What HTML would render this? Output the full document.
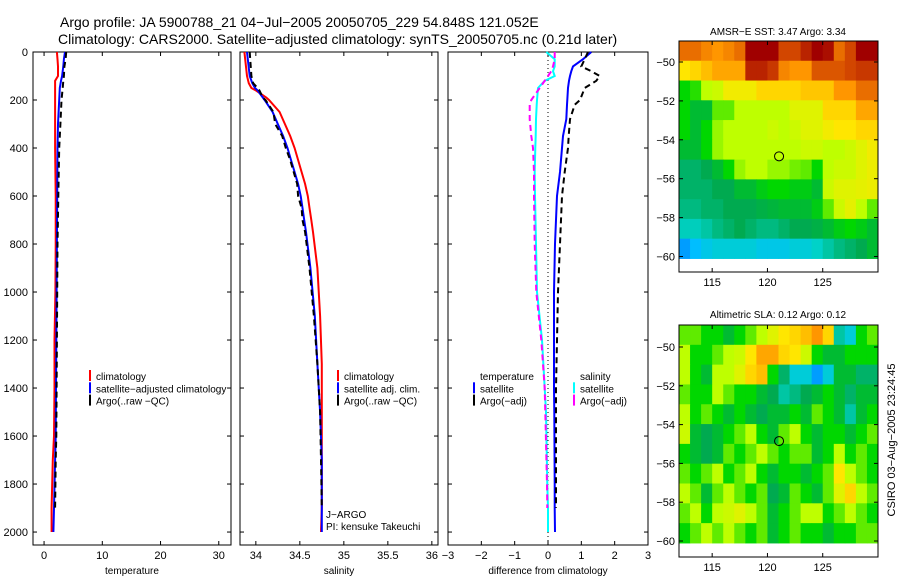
<!DOCTYPE html>
<html><head><meta charset="utf-8"><style>
body{margin:0;background:#fff;}
svg{display:block;font-family:"Liberation Sans",sans-serif;}
</style></head><body>
<svg id="c" width="900" height="580" xmlns="http://www.w3.org/2000/svg">
<text x="60" y="27" font-size="14">Argo profile: JA 5900788_21 04−Jul−2005 20050705_229 54.848S 121.052E</text>
<text x="58" y="44" font-size="14">Climatology: CARS2000. Satellite−adjusted climatology: synTS_20050705.nc (0.21d later)</text>
<text x="778" y="35" font-size="10" text-anchor="middle">AMSR−E SST: 3.47 Argo: 3.34</text>
<text x="778" y="318" font-size="10" text-anchor="middle">Altimetric SLA: 0.12 Argo: 0.12</text>
<text transform="translate(895,440) rotate(-90)" font-size="11" text-anchor="middle">CSIRO 03−Aug−2005 23:24:45</text>
</svg>
<script>
// ---- profile data ----
const depthT = [0,30,60,100,120,150,200,300,400,600,800,1000,1200,1400,1600,1700,1900,2000];
const tempClim = [2.2,2.3,2.4,2.4,1.9,1.9,1.9,1.9,1.9,2.0,2.0,1.95,1.8,1.8,1.7,1.5,1.3,1.3];
const tempSat  = [3.6,3.4,3.3,3.1,2.9,2.7,2.6,2.4,2.3,2.25,2.2,2.15,2.1,2.05,2.0,1.9,1.7,1.6];
const tempArgo = [3.8,3.7,3.5,3.4,3.3,3.2,3.0,2.8,2.6,2.45,2.3,2.25,2.2,2.15,2.1,2.0,1.9];
const depthS = [0,100,130,150,160,190,200,250,300,350,400,450,500,550,600,650,700,750,900,1100,1300,1500,1700,1900,2000];
const salClim = [33.87,33.9,33.92,33.95,34.0,34.12,34.15,34.27,34.33,34.39,34.44,34.48,34.52,34.56,34.59,34.61,34.63,34.65,34.70,34.73,34.75,34.75,34.75,34.75,34.74];
const salSat  = [33.9,33.93,33.96,33.99,34.02,34.08,34.1,34.19,34.25,34.31,34.36,34.4,34.44,34.48,34.51,34.53,34.55,34.57,34.62,34.67,34.70,34.73,34.75,34.75,34.75];
const salArgo = [33.93,33.95,33.97,34.02,34.04,34.08,34.11,34.2,34.22,34.3,34.34,34.39,34.43,34.47,34.48,34.52,34.53,34.56,34.61,34.66,34.70,34.73,34.74,34.75];
const depthD = [0,30,60,80,100,120,150,200,220,280,350,400,500,600,800,1000,1200,1400,1500,1800,1900,2000];
const dTempSat  = [1.3,1.05,0.75,0.7,0.66,0.63,0.6,0.58,0.57,0.55,0.45,0.42,0.36,0.27,0.21,0.18,0.18,0.18,0.19,0.2,0.2,0.21];
const dTempArgo = [1.2,1.1,1.0,1.3,1.55,1.45,1.1,0.96,0.8,0.66,0.62,0.6,0.5,0.42,0.36,0.3,0.27,0.24,0.24,0.24,0.24];
const dSalSat   = [-0.05,0.2,0.2,0.15,0.2,-0.1,-0.3,-0.33,-0.34,-0.36,-0.37,-0.38,-0.4,-0.39,-0.36,-0.33,-0.18,-0.1,-0.06,-0.02,0,0];
const dSalArgo  = [0.2,0.2,0.15,0.1,0.0,-0.1,-0.25,-0.5,-0.55,-0.55,-0.5,-0.45,-0.42,-0.42,-0.4,-0.35,-0.2,-0.1,-0.08,-0.03,-0.02];
const depthTicks = [0,200,400,600,800,1000,1200,1400,1600,1800,2000];
const tempTicks = [0,10,20,30];
const salTicks = [34,34.5,35,35.5,36];
const diffTicks = [-3,-2,-1,0,1,2,3];
// ---- map data (rows north->south, cols west->east, normalized 0..1) ----
const lonTicks = [115,120,125];
const latTicks = [-50,-52,-54,-56,-58,-60];
const sstGrid = [
[0.85,0.85,0.82,0.8,0.82,0.85,1.0,1.0,1.0,0.9,0.9,0.95,1.0,0.98,0.85,0.9,1.0,1.0],
[0.7,0.72,0.75,0.78,0.78,0.78,0.95,0.95,0.92,0.82,0.8,0.8,0.88,0.88,0.88,0.9,0.92,0.92],
[0.5,0.52,0.6,0.62,0.68,0.68,0.68,0.72,0.72,0.72,0.72,0.74,0.74,0.74,0.8,0.8,0.85,0.85],
[0.5,0.45,0.45,0.55,0.55,0.6,0.6,0.6,0.6,0.6,0.65,0.65,0.65,0.72,0.72,0.72,0.78,0.78],
[0.5,0.45,0.5,0.58,0.6,0.6,0.6,0.6,0.62,0.6,0.62,0.65,0.65,0.68,0.7,0.7,0.72,0.72],
[0.45,0.45,0.5,0.58,0.6,0.6,0.6,0.6,0.6,0.6,0.6,0.62,0.62,0.6,0.6,0.62,0.65,0.68],
[0.4,0.4,0.42,0.45,0.5,0.58,0.6,0.6,0.58,0.58,0.56,0.55,0.5,0.6,0.62,0.62,0.65,0.67],
[0.4,0.4,0.4,0.42,0.42,0.45,0.45,0.48,0.5,0.5,0.48,0.48,0.45,0.62,0.65,0.65,0.66,0.67],
[0.38,0.38,0.4,0.4,0.42,0.42,0.42,0.43,0.44,0.45,0.45,0.45,0.48,0.55,0.62,0.66,0.6,0.55],
[0.33,0.33,0.35,0.38,0.4,0.42,0.4,0.38,0.38,0.4,0.42,0.42,0.43,0.45,0.48,0.5,0.48,0.45],
[0.22,0.25,0.28,0.3,0.3,0.3,0.3,0.28,0.28,0.28,0.3,0.3,0.32,0.35,0.38,0.4,0.42,0.45]];
const slaGrid = [
[0.55,0.55,0.5,0.5,0.45,0.5,0.55,0.6,0.65,0.7,0.72,0.75,0.8,0.72,0.35,0.3,0.5,0.55],
[0.6,0.5,0.5,0.55,0.6,0.62,0.7,0.78,0.78,0.72,0.7,0.62,0.5,0.45,0.45,0.5,0.5,0.5],
[0.6,0.5,0.45,0.6,0.6,0.65,0.72,0.75,0.5,0.4,0.3,0.3,0.22,0.3,0.45,0.45,0.4,0.4],
[0.55,0.5,0.5,0.6,0.55,0.5,0.5,0.45,0.42,0.35,0.38,0.42,0.45,0.5,0.45,0.4,0.45,0.45],
[0.6,0.5,0.55,0.5,0.45,0.5,0.45,0.42,0.45,0.45,0.5,0.45,0.55,0.5,0.45,0.35,0.45,0.5],
[0.62,0.45,0.42,0.45,0.5,0.55,0.6,0.5,0.45,0.55,0.6,0.5,0.45,0.5,0.5,0.45,0.5,0.55],
[0.5,0.45,0.42,0.45,0.55,0.5,0.55,0.6,0.55,0.5,0.55,0.55,0.45,0.5,0.6,0.5,0.55,0.5],
[0.55,0.5,0.55,0.6,0.5,0.55,0.6,0.5,0.45,0.5,0.5,0.45,0.5,0.55,0.7,0.6,0.55,0.5],
[0.6,0.55,0.45,0.55,0.6,0.55,0.5,0.55,0.42,0.45,0.55,0.5,0.45,0.55,0.65,0.72,0.6,0.55],
[0.55,0.6,0.5,0.6,0.62,0.65,0.6,0.55,0.45,0.5,0.55,0.6,0.6,0.5,0.55,0.6,0.55,0.5],
[0.5,0.55,0.6,0.55,0.6,0.55,0.5,0.55,0.45,0.5,0.55,0.5,0.5,0.45,0.5,0.5,0.55,0.55]];
const floatPos = [121.05,-54.85];

const svg=document.getElementById('c');
const NS='http://www.w3.org/2000/svg';
function mk(tag,attrs,parent){const e=document.createElementNS(NS,tag);for(const k in attrs)e.setAttribute(k,attrs[k]);(parent||svg).appendChild(e);return e;}
const Y0=52, YB=545, DMAX=2054;
const yD=d=>Y0+(d/DMAX)*(YB-Y0);
function panel(name,x0,x1,xmin,xmax,ticks,label,yLabels){
  const g=mk('g',{});
  
  
  const sx=v=>x0+(v-xmin)/(xmax-xmin)*(x1-x0);
  const fr=mk('rect',{x:x0,y:Y0,width:x1-x0,height:YB-Y0,fill:'none',stroke:'#000','stroke-width':1},g);
  
  
  ticks.forEach(t=>{const x=sx(t);
    mk('line',{x1:x,y1:YB,x2:x,y2:YB-4,stroke:'#000'},g);
    mk('line',{x1:x,y1:Y0,x2:x,y2:Y0+4,stroke:'#000'},g);
    const tx=mk('text',{x:x,y:YB+14,'font-size':11,'text-anchor':'middle'},g);tx.textContent=String(t).replace('-','−');
    
    
  });
  depthTicks.forEach(d=>{const y=yD(d);
    mk('line',{x1:x0,y1:y,x2:x0+4,y2:y,stroke:'#000'},g);
    mk('line',{x1:x1,y1:y,x2:x1-4,y2:y,stroke:'#000'},g);
    if(yLabels){const tx=mk('text',{x:x0-5,y:y+4,'font-size':11,'text-anchor':'end'},g);tx.textContent=d;
      
      }
  });
  const xl=mk('text',{x:(x0+x1)/2,y:YB+29,'font-size':10,'text-anchor':'middle'},g);xl.textContent=label;
  
  
  return {g,sx};
}
function line(p,vals,deps,color,dash,nm,w){
  const pts=vals.map((v,i)=>p.sx(v).toFixed(1)+','+yD(deps[i]).toFixed(1)).join(' ');
  const l=mk('polyline',{points:pts,fill:'none',stroke:color,'stroke-width':w||2},p.g);
  if(dash)l.setAttribute('stroke-dasharray',dash);
  
  
}
function legend(g,x,y,items){
  items.forEach((it,i)=>{
    if(it[0]){const b=mk('rect',{x:x,y:y+i*12.3-10,width:2,height:11,fill:it[0]},g);
      
      }
    const t=mk('text',{x:x+7,y:y+i*12.3,'font-size':10},g);t.textContent=it[1];
    
    
  });
}
// temperature panel
const pT=panel('temperature-panel',33,231,-1.9,32.1,tempTicks,'temperature',true);
line(pT,tempClim,depthT,'#f00',null,'temp-climatology-line');
line(pT,tempSat,depthT,'#00f',null,'temp-satellite-line');
line(pT,tempArgo,depthT,'#000','6,4','temp-argo-line');
legend(pT.g,89,380,[['#f00','climatology'],['#00f','satellite−adjusted climatology'],['#000','Argo(..raw −QC)']]);
// salinity panel
const pS=panel('salinity-panel',240,438,33.82,36.07,salTicks,'salinity',false);
line(pS,salClim,depthS,'#f00',null,'sal-climatology-line');
line(pS,salSat,depthS,'#00f',null,'sal-satellite-line');
line(pS,salArgo,depthS,'#000','6,4','sal-argo-line');
legend(pS.g,337,380,[['#f00','climatology'],['#00f','satellite adj. clim.'],['#000','Argo(..raw −QC)']]);
const j1=mk('text',{x:326,y:518,'font-size':10},pS.g);j1.textContent='J−ARGO';


const j2=mk('text',{x:326,y:530,'font-size':10},pS.g);j2.textContent='PI: kensuke Takeuchi';


// difference panel
const pD=panel('difference-panel',448,648,-3,3,diffTicks,'difference from climatology',false);
const zl=mk('line',{x1:pD.sx(0),y1:Y0,x2:pD.sx(0),y2:YB,stroke:'#000','stroke-dasharray':'1,3'},pD.g);


line(pD,dSalSat,depthD,'#0ff',null,'sal-satellite-diff-line');
line(pD,dSalArgo,depthD,'#f0f','6,4','sal-argo-diff-line');
line(pD,dTempSat,depthD,'#00f',null,'temp-satellite-diff-line');
line(pD,dTempArgo,depthD,'#000','6,4','temp-argo-diff-line');
legend(pD.g,473,380,[[null,'temperature'],['#00f','satellite'],['#000','Argo(−adj)']]);
legend(pD.g,573,380,[[null,'salinity'],['#0ff','satellite'],['#f0f','Argo(−adj)']]);
// maps
function cmap(v){
  const stops=[[0.15,[0,80,255]],[0.25,[0,190,255]],[0.32,[0,210,200]],[0.42,[0,170,80]],[0.5,[0,215,0]],[0.6,[190,255,0]],[0.7,[255,230,0]],[0.8,[255,150,0]],[0.9,[210,70,0]],[1.0,[160,0,0]]];
  if(v<=stops[0][0])return 'rgb('+stops[0][1]+')';
  for(let i=1;i<stops.length;i++){if(v<=stops[i][0]){const a=stops[i-1],b=stops[i],f=(v-a[0])/(b[0]-a[0]);
    return 'rgb('+a[1].map((c,k)=>Math.round(c+(b[1][k]-c)*f)).join(',')+')';}}
  return 'rgb(160,0,0)';
}
function map(name,grid,top,bottom,lat50,lat60){
  const g=mk('g',{});
  
  
  const X0=679,X1=878,LON0=112,LON1=130;
  const sx=l=>X0+(l-LON0)/(LON1-LON0)*(X1-X0);
  const sy=la=>lat50+(la+50)/(-10)*(lat60-lat50);
  const latTop=-50+(lat50-top)/((lat60-lat50)/10);
  const latBot=-60.1;
  const rows=grid.length,cols=grid[0].length;
  const dl=(latTop-latBot)/rows,dn=(LON1-LON0)/cols;
  grid.forEach((row,r)=>row.forEach((v,c)=>{
    const xa=sx(LON0+c*dn),xb=sx(LON0+(c+1)*dn),ya=sy(latTop-r*dl),yb=sy(latTop-(r+1)*dl);
    const cell=mk('rect',{x:xa.toFixed(2),y:ya.toFixed(2),width:(xb-xa+0.5).toFixed(2),height:(yb-ya+0.5).toFixed(2),fill:cmap(v)},g);
    
    
  }));
  const fr=mk('rect',{x:X0,y:top,width:X1-X0,height:bottom-top,fill:'none',stroke:'#000'},g);
  
  
  lonTicks.forEach(l=>{const x=sx(l);
    mk('line',{x1:x,y1:bottom,x2:x,y2:bottom-4,stroke:'#000'},g);
    mk('line',{x1:x,y1:top,x2:x,y2:top+4,stroke:'#000'},g);
    const t=mk('text',{x:x,y:bottom+14,'font-size':11,'text-anchor':'middle'},g);t.textContent=l;
    
    });
  latTicks.forEach(l=>{const y=sy(l);
    mk('line',{x1:X0,y1:y,x2:X0+4,y2:y,stroke:'#000'},g);
    mk('line',{x1:X1,y1:y,x2:X1-4,y2:y,stroke:'#000'},g);
    const t=mk('text',{x:X0-4,y:y+4,'font-size':11,'text-anchor':'end'},g);t.textContent=String(l).replace('-','−');
    
    });
  const m=mk('circle',{cx:sx(floatPos[0]),cy:sy(floatPos[1]),r:4.5,fill:'none',stroke:'#000','stroke-width':1},g);
  
  
}
map('sst-map',sstGrid,41,272,62,256.5);
map('sla-map',slaGrid,325,557,347,541);
</script>
</body></html>
